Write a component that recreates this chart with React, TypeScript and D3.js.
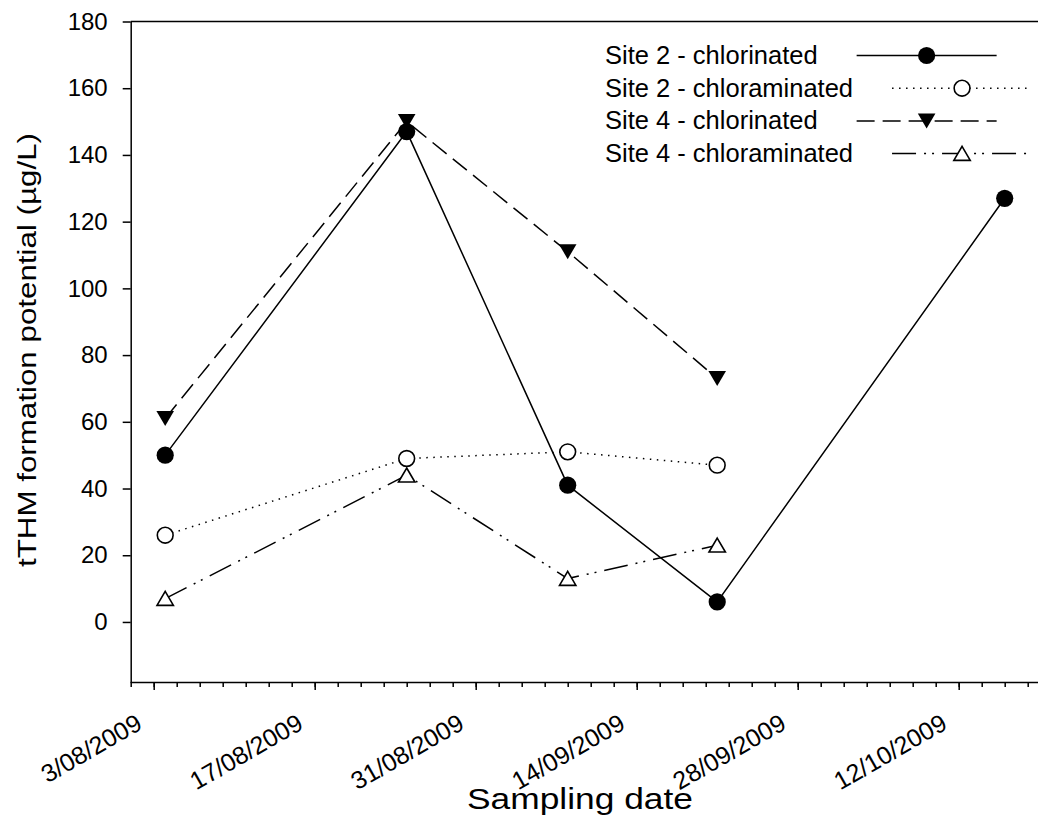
import React, { useEffect, useRef } from "react";
import * as d3 from "d3";

// ---- data ----
const sampleDates = ["2009-08-04", "2009-08-25", "2009-09-08", "2009-09-21", "2009-10-16"];
const site2Chlorinated = [50, 147, 41, 6, 127];
const site2Chloraminated = [26, 49, 51, 47];
const site4Chlorinated = [61, 150, 111, 73];
const site4Chloraminated = [7, 44, 13, 23];
const yTicks = [0, 20, 40, 60, 80, 100, 120, 140, 160, 180];
const xTickLabels = ["3/08/2009", "17/08/2009", "31/08/2009", "14/09/2009", "28/09/2009", "12/10/2009"];
const seriesNames = [
  "Site 2 - chlorinated",
  "Site 2 - chloraminated",
  "Site 4 - chlorinated",
  "Site 4 - chloraminated",
];

const FONT = "'Liberation Sans', Arial, Helvetica, sans-serif";
const W = 1038;
const H = 825;

function parseDMY(s: string): Date {
  const [d, m, y] = s.split("/").map(Number);
  return new Date(Date.UTC(y, m - 1, d));
}
function parseISO(s: string): Date {
  const [y, m, d] = s.split("-").map(Number);
  return new Date(Date.UTC(y, m - 1, d));
}

type Marker = "filledCircle" | "openCircle" | "downTri" | "upTri";

const styles: { dash: string | null; marker: Marker }[] = [
  { dash: null, marker: "filledCircle" },
  { dash: "1.5,5.5", marker: "openCircle" },
  { dash: "18,8", marker: "downTri" },
  { dash: "24,8,2,6,2,8", marker: "upTri" },
];

function drawMarker(g: d3.Selection<SVGGElement, unknown, null, undefined>, kind: Marker, cx: number, cy: number) {
  if (kind === "filledCircle") {
    g.append("circle").attr("cx", cx).attr("cy", cy).attr("r", 8.6).attr("fill", "#000");
  } else if (kind === "openCircle") {
    g.append("circle").attr("cx", cx).attr("cy", cy).attr("r", 7.9)
      .attr("fill", "#fff").attr("stroke", "#000").attr("stroke-width", 1.6);
  } else if (kind === "downTri") {
    const p = d3.path();
    p.moveTo(cx - 8.8, cy - 7.5); p.lineTo(cx + 8.8, cy - 7.5); p.lineTo(cx, cy + 7.5); p.closePath();
    g.append("path").attr("d", p.toString()).attr("fill", "#000");
  } else {
    const p = d3.path();
    p.moveTo(cx, cy - 7.2); p.lineTo(cx + 8.2, cy + 6.8); p.lineTo(cx - 8.2, cy + 6.8); p.closePath();
    g.append("path").attr("d", p.toString()).attr("fill", "#fff")
      .attr("stroke", "#000").attr("stroke-width", 1.6).attr("stroke-linejoin", "miter");
  }
}

export default function App() {
  const ref = useRef<SVGSVGElement>(null);

  useEffect(() => {
    const svg = d3.select(ref.current as SVGSVGElement);
    svg.selectAll("*").remove();

    const x0 = 130.7;
    const pxPerDay = 11.5;
    const start = new Date(Date.UTC(2009, 7, 1));
    const end = new Date(Date.UTC(2009, 9, 19));
    const nDays = d3.utcDay.count(start, end);
    const x = d3.scaleUtc().domain([start, end]).range([x0, x0 + nDays * pxPerDay]);
    const y = d3.scaleLinear().domain([-18, 180]).range([682, 21.5]);

    const root = svg.append("g") as unknown as d3.Selection<SVGGElement, unknown, null, undefined>;

    // ---- axes ----
    const yAxis = d3.axisLeft(y).tickValues(yTicks).tickSize(8).tickSizeOuter(0).tickPadding(15)
      .tickFormat((d) => String(d));
    const gy = root.append("g").attr("transform", `translate(${x0},0)`).call(yAxis as any);
    gy.selectAll("text").attr("font-family", FONT).attr("font-size", 24).attr("fill", "#000");
    gy.selectAll("line,path").attr("stroke", "#000").attr("stroke-width", 1.5);

    // top line
    root.append("line").attr("x1", x0).attr("x2", W).attr("y1", y(180)).attr("y2", y(180))
      .attr("stroke", "#000").attr("stroke-width", 1.5);

    const majorDates = xTickLabels.map(parseDMY);
    const minorDates = d3.utcDay.range(start, end, 1).filter((d) => d3.utcDay.count(start, d) % 2 === 0);

    const xMinor = d3.axisBottom(x).tickValues(minorDates).tickSize(5).tickSizeOuter(0).tickFormat(() => "");
    const gxm = root.append("g").attr("transform", `translate(0,${y(-18)})`).call(xMinor as any);
    gxm.selectAll("line,path").attr("stroke", "#000").attr("stroke-width", 1.5);
    gxm.select("path.domain").attr("d", `M${x0},0.5H${W + 20}`);

    const xMajor = d3.axisBottom(x).tickValues(majorDates).tickSize(8).tickSizeOuter(0).tickFormat(() => "");
    const gxM = root.append("g").attr("transform", `translate(0,${y(-18)})`).call(xMajor as any);
    gxM.selectAll("line").attr("stroke", "#000").attr("stroke-width", 1.5);
    gxM.select("path.domain").remove();

    root.append("g").selectAll("text").data(majorDates).join("text")
      .attr("transform", (d) => `translate(${x(d) - 10},728) rotate(-30)`)
      .attr("text-anchor", "end")
      .attr("font-family", FONT).attr("font-size", 25).attr("fill", "#000")
      .text((d, i) => xTickLabels[i]);

    // axis titles
    root.append("text")
      .attr("transform", `translate(36,350) rotate(-90)`)
      .attr("text-anchor", "middle").attr("font-family", FONT).attr("font-size", 26)
      .attr("textLength", 434).attr("lengthAdjust", "spacingAndGlyphs")
      .text("tTHM formation potential (\u00b5g/L)");
    root.append("text")
      .attr("x", 580).attr("y", 809)
      .attr("text-anchor", "middle").attr("font-family", FONT).attr("font-size", 29)
      .attr("textLength", 226).attr("lengthAdjust", "spacingAndGlyphs")
      .text("Sampling date");

    // ---- series ----
    const dates = sampleDates.map(parseISO);
    const allSeries = [site2Chlorinated, site2Chloraminated, site4Chlorinated, site4Chloraminated];
    const line = d3.line<[Date, number]>().x((d) => x(d[0])).y((d) => y(d[1]));

    allSeries.forEach((vals, si) => {
      const pts: [Date, number][] = vals.map((v, i) => [dates[i], v]);
      const g = root.append("g") as unknown as d3.Selection<SVGGElement, unknown, null, undefined>;
      const path = g.append("path").attr("d", line(pts) || "").attr("fill", "none")
        .attr("stroke", "#000").attr("stroke-width", 1.5);
      if (styles[si].dash) path.attr("stroke-dasharray", styles[si].dash as string);
      pts.forEach((p) => drawMarker(g, styles[si].marker, x(p[0]), y(p[1])));
    });

    // ---- legend ----
    const legX = 605;
    const legY0 = 64;
    const legDy = 32.7;
    seriesNames.forEach((name, i) => {
      const g = root.append("g") as unknown as d3.Selection<SVGGElement, unknown, null, undefined>;
      const by = legY0 + i * legDy;
      const t = g.append("text").attr("x", legX).attr("y", by)
        .attr("font-family", FONT).attr("font-size", 25.5).attr("fill", "#000").text(name);
      const tl = (t.node() as SVGTextElement).getComputedTextLength();
      const ly = by - 8.5;
      const lx1 = legX + tl + 39;
      const lx2 = lx1 + 140;
      const p = g.append("line").attr("x1", lx1).attr("x2", lx2).attr("y1", ly).attr("y2", ly)
        .attr("stroke", "#000").attr("stroke-width", 1.5);
      if (styles[i].dash) p.attr("stroke-dasharray", styles[i].dash as string);
      drawMarker(g, styles[i].marker, (lx1 + lx2) / 2, ly);
    });
  }, []);

  return (
    <svg
      ref={ref}
      width={W}
      height={H}
      style={{ position: "absolute", left: 0, top: 0, background: "#fff" }}
    />
  );
}
